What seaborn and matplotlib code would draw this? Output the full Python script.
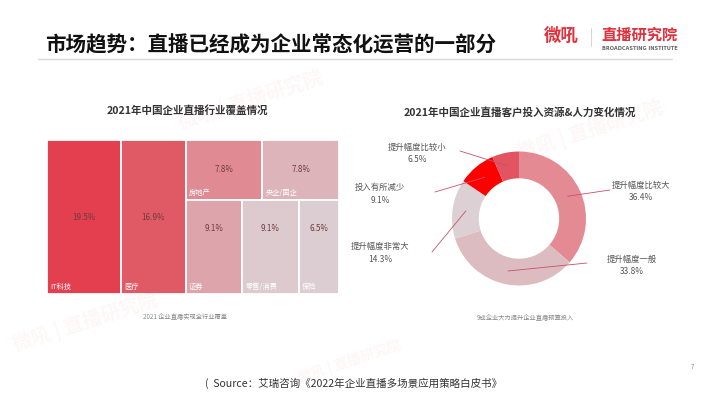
import numpy as np
import matplotlib
matplotlib.use("Agg")
import matplotlib.pyplot as plt
import seaborn as sns

# ---------------- data ----------------
tm_labels = ["IT科技", "医疗", "房地产", "央企/国企", "证券", "零售/消费", "保险"]
tm_values = [19.5, 16.9, 7.8, 7.8, 9.1, 9.1, 6.5]
tm_colors = ["#e33f4e", "#e05a66", "#e08b94", "#dcb4b9", "#dea4ab", "#dccacf", "#dccdd2"]

donut_labels = ["提升幅度比较大", "提升幅度一般", "提升幅度非常大", "投入有所减少", "提升幅度比较小"]
donut_values = [36.4, 33.8, 14.3, 9.1, 6.5]
donut_colors = ["#e38a93", "#dcbcc1", "#dcd0d5", "#fe0000", "#e2545f"]

main_title = "市场趋势：直播已经成为企业常态化运营的一部分"
left_title = "2021年中国企业直播行业覆盖情况"
right_title = "2021年中国企业直播客户投入资源&人力变化情况"
left_caption = "2021 企业直播实现全行业覆盖"
right_caption = "9成企业大力提升企业直播预算投入"
source_text = "(  Source：艾瑞咨询《2022年企业直播多场景应用策略白皮书》"

# ---------------- style ----------------
sns.set_theme(style="white")
plt.rcParams["font.family"] = ["Noto Sans CJK SC", "DejaVu Sans"]

W, H = 710, 399
fig = plt.figure(figsize=(W / 100, H / 100), dpi=100)
fig.patch.set_facecolor("white")


def fx(x):
    return x / W


def fy(y):
    return 1 - y / H


# watermarks
for (wx, wy, fs) in [(85, 322, 14), (250, 100, 14), (590, 130, 14), (350, 362, 10)]:
    fig.text(fx(wx), fy(wy), "微吼 | 直播研究院", fontsize=fs, color="#e06070",
             alpha=0.05, rotation=18, ha="center", va="center", fontweight="bold")

# header
fig.text(fx(45), fy(45), main_title, fontsize=14.8, fontweight="black",
         color="#111111", ha="left", va="center")
fig.add_artist(plt.Line2D([fx(38), fx(672)], [fy(59), fy(59)], color="#d9d9d9", lw=1.0))
fig.text(fx(561), fy(36), "微吼", fontsize=12.5, fontweight="bold", color="#e0303c",
         ha="center", va="center", style="italic")
fig.add_artist(plt.Line2D([fx(591), fx(591)], [fy(28), fy(46)], color="#cccccc", lw=0.6))
fig.text(fx(640), fy(35), "直播研究院", fontsize=11, fontweight="bold", color="#e0303c",
         ha="center", va="center", style="italic")
fig.text(fx(640), fy(48), "BROADCASTING INSTITUTE", fontsize=3.6, fontweight="bold",
         color="#666666", ha="center", va="center", family="DejaVu Sans")

# section titles & captions
fig.text(fx(187), fy(111), left_title, fontsize=7.6, fontweight="bold", color="#333333",
         ha="center", va="center")
fig.text(fx(520), fy(112), right_title, fontsize=7.6, fontweight="bold", color="#333333",
         ha="center", va="center")
fig.text(fx(185), fy(317), left_caption, fontsize=4.5, color="#888888", ha="center", va="center")
fig.text(fx(525), fy(318), right_caption, fontsize=4.5, color="#888888", ha="center", va="center")
fig.text(fx(205), fy(383), source_text, fontsize=7.6, color="#333333", ha="left", va="center")
fig.text(fx(692), fy(367), "7", fontsize=4.5, color="#888888", ha="center", va="center")

# ---------------- treemap ----------------
ax = fig.add_axes([fx(47), fy(294), 292 / W, 154 / H])
total = sum(tm_values)
rects = []  # (left, bottom, width, height)
x0 = 0.0
for v in tm_values[:2]:
    rects.append((x0, 0.0, v, 1.0))
    x0 += v
block_w = total - x0
top_vals = tm_values[2:4]
bot_vals = tm_values[4:]
top_h = sum(top_vals) / sum(tm_values[2:])
xx = x0
for v in top_vals:
    w = v / sum(top_vals) * block_w
    rects.append((xx, 1 - top_h, w, top_h))
    xx += w
xx = x0
for v in bot_vals:
    w = v / sum(bot_vals) * block_w
    rects.append((xx, 0.0, w, 1 - top_h))
    xx += w

for i, ((l, b, w, h), lab, val, col) in enumerate(zip(rects, tm_labels, tm_values, tm_colors)):
    ax.bar(l, h, width=w, bottom=b, align="edge", color=col, edgecolor="white", linewidth=1.3)
    if i < 4:
        ty = b + h / 2
    else:
        ty = b + h - 0.19
    ax.text(l + w / 2, ty, f"{val:.1f}%", fontsize=5.8, color="#6e3a40",
            ha="center", va="center")
    ax.annotate(lab, xy=(l, b), xytext=(2.5, 5), textcoords="offset points",
                fontsize=5.2, color="white", ha="left", va="center")
ax.set_xlim(0, total)
ax.set_ylim(0, 1)
ax.set_axis_off()

# ---------------- donut ----------------
ax2 = fig.add_axes([fx(452), fy(285.5), 134 / W, 134 / H])
wedges, _ = ax2.pie(donut_values, colors=donut_colors, startangle=90, counterclock=False,
                    radius=1.0, wedgeprops=dict(width=0.4, edgecolor="none"))
ax2.set_xlim(-1, 1)
ax2.set_ylim(-1, 1)
ax2.set_aspect("equal")
ax2.set_axis_off()

line_ends = [(610, 190), (587, 263), (432, 252), (435, 192), (460, 151)]
label_pos = [(641, 191.5), (632, 265.5), (380, 252.5), (380, 194), (417, 153.5)]
for wdg, lab, val, (ex, ey), (lx, ly) in zip(wedges, donut_labels, donut_values,
                                                line_ends, label_pos):
    ang = np.deg2rad((wdg.theta1 + wdg.theta2) / 2)
    px, py = 0.8 * np.cos(ang), 0.8 * np.sin(ang)
    ax2.annotate("", xy=(px, py), xytext=(ex, H - ey), textcoords="figure pixels",
                 arrowprops=dict(arrowstyle="-", color="#c8506a", lw=0.6,
                                 shrinkA=0, shrinkB=0), annotation_clip=False)
    fig.text(fx(lx), fy(ly - 6.5), lab, fontsize=6, color="#555555", ha="center", va="center")
    fig.text(fx(lx), fy(ly + 6.5), f"{val:.1f}%", fontsize=6, color="#555555",
             ha="center", va="center")

fig.savefig("out.png", dpi=100)
